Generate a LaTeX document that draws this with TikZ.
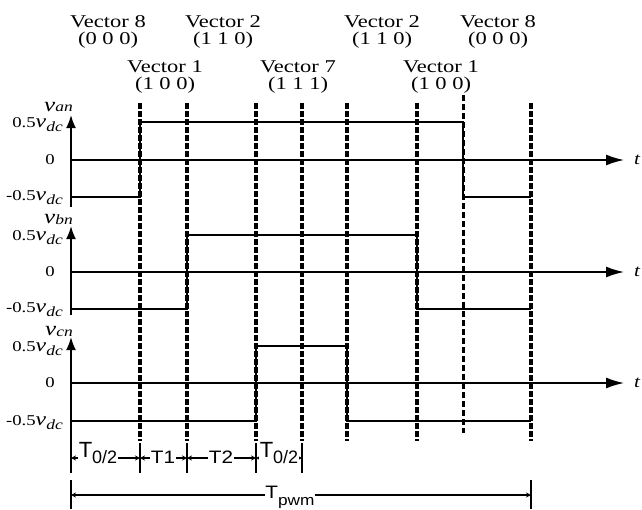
\documentclass[tikz,border=0pt]{standalone}
\usepackage{graphicx}
\usepackage{fontspec}
\setmainfont{Liberation Serif}
\newfontfamily\sflbl{Liberation Sans}
\usetikzlibrary{arrows.meta}
\newcommand{\sx}[1]{\scalebox{1.25}[1]{#1}}
\newcommand{\vsym}[1]{{\fontsize{#1}{#1}\selectfont\itshape v}}
\newcommand{\sbs}[2]{\raisebox{-#2}{\fontsize{14}{14}\selectfont\itshape #1}}
\begin{document}
\begin{tikzpicture}[x=1pt,y=-1pt,
  vlab/.style={anchor=base, inner sep=0pt, font=\fontsize{18}{19}\selectfont},
  ylab/.style={anchor=base east, inner sep=0pt, font=\fontsize{15}{16}\selectfont},
  vaxis/.style={line width=1.8pt, -{Latex[length=13pt,width=10pt]}},
  taxis/.style={line width=1.6pt, -{Latex[length=18pt,width=11pt]}},
  sig/.style={line width=1.6pt},
  dline/.style={line width=3.4pt, dash pattern=on 5.5pt off 2.5pt},
  dlinethin/.style={line width=3pt, dash pattern=on 6pt off 3pt},
  tickline/.style={line width=1.8pt},
  span/.style={line width=1.5pt, {Stealth[length=5pt,width=5pt]}-{Stealth[length=5pt,width=5pt]}},
  tlab/.style={anchor=base, inner sep=0.5pt, fill=white, font=\sflbl}
]
\useasboundingbox (0,0) rectangle (642,509);

% vector labels
\node[vlab] (v8l) at (108,27) {\sx{Vector 8}};
\node[vlab] (v8c) at (108,44) {\sx{(0 0 0)}};
\node[vlab] (v2l) at (223,27) {\sx{Vector 2}};
\node[vlab] (v2c) at (223,44) {\sx{(1 1 0)}};
\node[vlab] (v1l) at (165,72) {\sx{Vector 1}};
\node[vlab] (v1c) at (165,89) {\sx{(1 0 0)}};
\node[vlab] (v7l) at (298,72) {\sx{Vector 7}};
\node[vlab] (v7c) at (298,89) {\sx{(1 1 1)}};
\node[vlab] (v2rl) at (382,27) {\sx{Vector 2}};
\node[vlab] (v2rc) at (382,44) {\sx{(1 1 0)}};
\node[vlab] (v8rl) at (498,27) {\sx{Vector 8}};
\node[vlab] (v8rc) at (498,44) {\sx{(0 0 0)}};
\node[vlab] (v1rl) at (441,72) {\sx{Vector 1}};
\node[vlab] (v1rc) at (441,89) {\sx{(1 0 0)}};

% dashed switching instants
\foreach \x in {140,187,256,302,347,417,531}
  \draw[dline] (\x,103) -- (\x,441);
\draw[dlinethin] (463,95) -- (463,433);
\foreach \x in {140,187,256,302}
  \draw[tickline] (\x,443) -- (\x,473);

% axes
\draw[vaxis] (71,207) -- (71,115);
\draw[vaxis] (71,315) -- (71,226);
\draw[vaxis] (71,473) -- (71,337);
\draw[taxis] (71,160) -- (624,160);
\draw[taxis] (71,272) -- (624,272);
\draw[taxis] (71,383) -- (624,383);
\node[anchor=base, inner sep=0pt, font=\fontsize{17}{17}\selectfont\itshape] (ta) at (637,164) {\sx{t}};
\node[anchor=base, inner sep=0pt, font=\fontsize{17}{17}\selectfont\itshape] (tb) at (637,276) {\sx{t}};
\node[anchor=base, inner sep=0pt, font=\fontsize{17}{17}\selectfont\itshape] (tc) at (637,387) {\sx{t}};

% signals
\draw[sig] (71,197) -- (140,197) -- (140,122) -- (463,122) -- (463,197) -- (531,197);
\draw[sig] (71,309) -- (187,309) -- (187,235) -- (417,235) -- (417,309) -- (531,309);
\draw[sig] (71,421) -- (256,421) -- (256,346) -- (347,346) -- (347,421) -- (531,421);

% y labels
\node[ylab] (lan) at (73,111) {\sx{\vsym{20}\sbs{an}{0pt}}};
\node[ylab] (lbn) at (73,223) {\sx{\vsym{20}\sbs{bn}{1pt}}};
\node[ylab] (lcn) at (73,335) {\sx{\vsym{20}\sbs{cn}{1pt}}};
\node[ylab] (hA) at (63,127) {\sx{0.5\vsym{19}\sbs{dc}{4pt}}};
\node[ylab] (zA) at (55,164) {\sx{0}};
\node[ylab] (lA) at (63,200) {\sx{-0.5\vsym{19}\sbs{dc}{4pt}}};
\node[ylab] (hB) at (63,240) {\sx{0.5\vsym{19}\sbs{dc}{4pt}}};
\node[ylab] (zB) at (55,276) {\sx{0}};
\node[ylab] (lB) at (63,312) {\sx{-0.5\vsym{19}\sbs{dc}{4pt}}};
\node[ylab] (hC) at (63,351) {\sx{0.5\vsym{19}\sbs{dc}{4pt}}};
\node[ylab] (zC) at (55,387) {\sx{0}};
\node[ylab] (lC) at (63,425) {\sx{-0.5\vsym{19}\sbs{dc}{4pt}}};

% interval spans
\draw[span] (71,458) -- (140,458);
\draw[span] (140,458) -- (187,458);
\draw[span] (187,458) -- (256,458);
\draw[span] (256,458) -- (302,458);
\node[tlab] (s1) at (98,457) {\fontsize{22}{22}\selectfont T\raisebox{-6pt}{\fontsize{18}{18}\selectfont 0/2}};
\node[tlab] (s2) at (163,463) {\scalebox{1.15}[1]{\fontsize{18}{18}\selectfont T1}};
\node[tlab] (s3) at (221,463) {\scalebox{1.15}[1]{\fontsize{18}{18}\selectfont T2}};
\node[tlab] (s4) at (279,457) {\fontsize{22}{22}\selectfont T\raisebox{-6pt}{\fontsize{18}{18}\selectfont 0/2}};

% PWM period
\draw[tickline] (71,480) -- (71,509);
\draw[tickline] (531,480) -- (531,509);
\draw[span] (71,495) -- (531,495);
\node[tlab] (tp) at (290,498) {\scalebox{1.15}[1]{\fontsize{18}{18}\selectfont T\raisebox{-7pt}{\fontsize{15}{15}\selectfont pwm}}};
\end{tikzpicture}
\end{document}
